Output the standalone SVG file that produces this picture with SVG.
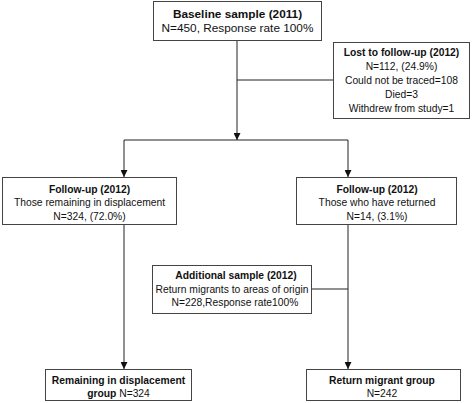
<svg xmlns="http://www.w3.org/2000/svg" width="472" height="403" viewBox="0 0 472 403">
<defs>
<style>
.box{fill:#fff;stroke:#444;stroke-width:1}
.t{font-family:"Liberation Sans",Arial,Helvetica,sans-serif;font-size:10.3px;fill:#111;text-anchor:middle}
.big{font-size:11.8px}
.b{font-weight:bold}
.ln{fill:none;stroke:#222;stroke-width:1}
</style>
<marker id="ah" viewBox="0 0 8 8" refX="8" refY="4" markerWidth="7" markerHeight="7" markerUnits="userSpaceOnUse" orient="auto">
<path d="M0,0 L8,4 L0,8 z" fill="#111"/>
</marker>
</defs>
<rect width="472" height="403" fill="#fff"/>
<g id="connectors">
<path class="ln" d="M237,40 V140" marker-end="url(#ah)"/>
<path class="ln" d="M237,80 H333"/>
<path class="ln" d="M124,140 H348"/>
<path class="ln" d="M124,140 V177" marker-end="url(#ah)"/>
<path class="ln" d="M348,140 V177" marker-end="url(#ah)"/>
<path class="ln" d="M124,224 V369" marker-end="url(#ah)"/>
<path class="ln" d="M348,224 V369" marker-end="url(#ah)"/>
<path class="ln" d="M312,289 H348"/>
</g>
<g id="baseline">
<rect class="box" x="153.5" y="1.5" width="168" height="39"/>
<text class="t big b" x="237.5" y="17.5">Baseline sample (2011)</text>
<text class="t big" x="237.5" y="32">N=450, Response rate 100%</text>
</g>
<g id="lost">
<rect class="box" x="333.5" y="42.5" width="136" height="76"/>
<text class="t b" x="401.5" y="55.5">Lost to follow-up (2012)</text>
<text class="t" x="401.5" y="69.5">N=112, (24.9%)</text>
<text class="t" x="401.5" y="83.5">Could not be traced=108</text>
<text class="t" x="401.5" y="97.5">Died=3</text>
<text class="t" x="401.5" y="111.5">Withdrew from study=1</text>
</g>
<g id="followup-left">
<rect class="box" x="2.5" y="177.5" width="174" height="47"/>
<text class="t b" x="89.5" y="192.5">Follow-up (2012)</text>
<text class="t" x="89.5" y="206">Those remaining in displacement</text>
<text class="t" x="89.5" y="219.5">N=324, (72.0%)</text>
</g>
<g id="followup-right">
<rect class="box" x="296.5" y="177.5" width="160" height="47"/>
<text class="t b" x="377" y="192.5">Follow-up (2012)</text>
<text class="t" x="377" y="206">Those who have returned</text>
<text class="t" x="377" y="219.5">N=14, (3.1%)</text>
</g>
<g id="additional">
<rect class="box" x="152.5" y="265.5" width="159" height="48"/>
<text class="t b" x="236" y="279">Additional sample (2012)</text>
<text class="t" x="232" y="292.5">Return migrants to areas of origin</text>
<text class="t" x="235" y="306">N=228,Response rate100%</text>
</g>
<g id="remaining">
<rect class="box" x="45.5" y="369.5" width="146" height="31"/>
<text class="t b" x="118.5" y="383.5">Remaining in displacement</text>
<text class="t" x="118.5" y="396.5"><tspan class="b">group</tspan> N=324</text>
</g>
<g id="return">
<rect class="box" x="306.5" y="369.5" width="154" height="31"/>
<text class="t b" x="382" y="383.5">Return migrant group</text>
<text class="t" x="382" y="396.5">N=242</text>
</g>
</svg>
